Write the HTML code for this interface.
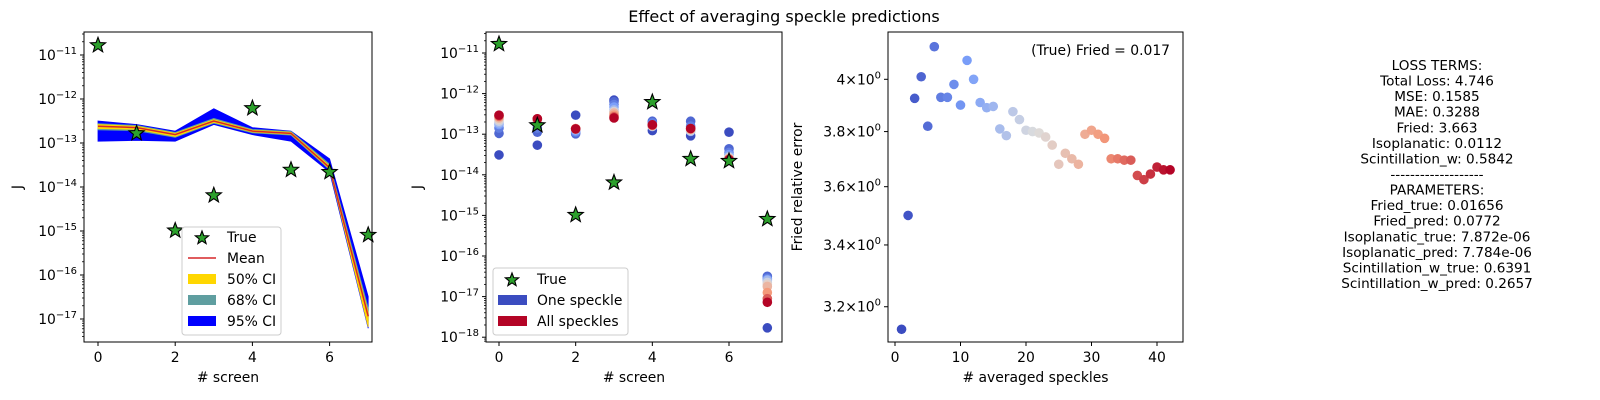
<!DOCTYPE html>
<html><head><meta charset="utf-8">
<style>
html,body{margin:0;padding:0;background:#fff;}
svg{display:block;font-family:"DejaVu Sans","Liberation Sans",sans-serif;}
</style></head>
<body>
<svg id="fig" width="1600" height="400" viewBox="0 0 1600 400" xmlns="http://www.w3.org/2000/svg">
<text x="784" y="22" font-size="16" text-anchor="middle" fill="#000">Effect of averaging speckle predictions</text>
<g id="p1"></g>
<g id="p2"></g>
<g id="p3"></g>
<g id="txt"></g>
</svg>
<script>
// ---- data (log10 values for J) ----
const screens = [0,1,2,3,4,5,6,7];
const trueJ = [-10.78,-12.78,-14.99,-14.19,-12.21,-13.61,-13.66,-15.09];
const meanJ = [-12.62,-12.65,-12.81,-12.50,-12.73,-12.78,-13.56,-16.94];
const ci95Hi = [-12.50,-12.58,-12.73,-12.22,-12.65,-12.73,-13.36,-16.49];
const ci95Lo = [-12.96,-12.94,-12.96,-12.58,-12.81,-12.96,-13.66,-17.21];
const ci68Hi = [-12.56,-12.60,-12.76,-12.44,-12.69,-12.74,-13.48,-16.75];
const ci68Lo = [-12.70,-12.72,-12.87,-12.55,-12.77,-12.82,-13.61,-17.05];
const ci50Hi = [-12.58,-12.62,-12.78,-12.47,-12.71,-12.76,-13.52,-16.85];
const ci50Lo = [-12.67,-12.69,-12.85,-12.53,-12.75,-12.80,-13.59,-17.18];
// speckle predictions per screen at colour positions speckleT
const speckleT = [0, 0.08, 0.15, 0.25, 0.35, 0.45, 0.55, 0.65, 0.75, 0.85, 1];
const speckleJ = [
  [-13.51,-12.98,-12.85,-12.76,-12.72,-12.68,-12.64,-12.60,-12.57,-12.55,-12.53],
  [-13.27,-12.95,-12.85,-12.76,-12.70,-12.67,-12.65,-12.64,-12.63,-12.62,-12.62],
  [-12.53,-12.99,-12.95,-12.92,-12.89,-12.88,-12.87,-12.86,-12.86,-12.87,-12.87],
  [-12.16,-12.20,-12.27,-12.33,-12.40,-12.44,-12.46,-12.48,-12.53,-12.57,-12.60],
  [-12.91,-12.68,-12.72,-12.77,-12.81,-12.80,-12.79,-12.79,-12.78,-12.77,-12.77],
  [-13.04,-12.68,-12.80,-12.88,-12.93,-12.91,-12.89,-12.88,-12.87,-12.86,-12.86],
  [-12.95,-13.36,-13.45,-13.50,-13.55,-13.57,-13.59,-13.60,-13.61,-13.62,-13.63],
  [-17.77,-16.50,-16.55,-16.58,-16.60,-16.65,-16.70,-16.75,-16.90,-17.05,-17.14]
];
const avgN = [1,2,3,4,5,6,7,8,9,10,11,12,13,14,15,16,17,18,19,20,21,22,23,24,25,26,27,28,29,30,31,32,33,34,35,36,37,38,39,40,41,42];
const friedErr = [3.13,3.50,3.926,4.01,3.82,4.13,3.93,3.93,3.98,3.90,4.075,4.0,3.91,3.89,3.895,3.81,3.785,3.875,3.845,3.805,3.80,3.795,3.78,3.75,3.68,3.72,3.70,3.68,3.79,3.805,3.79,3.775,3.70,3.70,3.695,3.695,3.64,3.625,3.645,3.67,3.66,3.66];
const xTicks12 = [0,2,4,6];
const yTicks1 = [-11,-12,-13,-14,-15,-16,-17];
const yTicks2 = [-11,-12,-13,-14,-15,-16,-17,-18];
const xTicks3 = [0,10,20,30,40];
const yTicks3 = [3.2,3.4,3.6,3.8,4];
const yTickLabels3 = ["3.2","3.4","3.6","3.8","4"];
const textLines = ["LOSS TERMS:","Total Loss: 4.746","MSE: 0.1585","MAE: 0.3288","Fried: 3.663","Isoplanatic: 0.0112","Scintillation_w: 0.5842","-------------------","PARAMETERS:","Fried_true: 0.01656","Fried_pred: 0.0772","Isoplanatic_true: 7.872e-06","Isoplanatic_pred: 7.784e-06","Scintillation_w_true: 0.6391","Scintillation_w_pred: 0.2657"];

const FS = 13.9;
const NS = "http://www.w3.org/2000/svg";
function mk(tag, attrs, parent){ const e=document.createElementNS(NS,tag); for(const k in attrs) e.setAttribute(k,attrs[k]); if(parent) parent.appendChild(e); return e; }
function lin(d0,d1,r0,r1){ return v => r0+(v-d0)*(r1-r0)/(d1-d0); }
const CW=[[0,[59,76,192]],[0.25,[123,159,249]],[0.5,[221,221,221]],[0.75,[244,154,123]],[1,[180,4,38]]];
function coolwarm(t){ for(let i=0;i<CW.length-1;i++){ const a=CW[i],b=CW[i+1]; if(t<=b[0]){ const f=(t-a[0])/(b[0]-a[0]); const c=a[1].map((v,j)=>Math.round(v+(b[1][j]-v)*f)); return `rgb(${c})`; } } return "rgb(180,4,38)"; }
function starPts(cx,cy,R){ const r=R*0.42; let p=[]; for(let i=0;i<10;i++){ const a=-Math.PI/2+i*Math.PI/5; const rr=i%2?r:R; p.push((cx+rr*Math.cos(a)).toFixed(2)+","+(cy+rr*Math.sin(a)).toFixed(2)); } return p.join(" "); }
function supLabel(g,x,y,base,exp,anchor){ const t=mk("text",{x:x,y:y,"font-size":FS,"text-anchor":anchor||"end",fill:"#000"},g); t.appendChild(document.createTextNode(base)); const s=mk("tspan",{dy:-6,"font-size":10},t); s.textContent=exp; return t; }

function frame(g,L,T,R,B){ mk("rect",{x:L,y:T,width:R-L,height:B-T,fill:"none",stroke:"#000","stroke-width":1},g); }
function logYAxis(g,L,ys,ticks,lo,hi){
  ticks.forEach(e=>{ const y=ys(e); mk("line",{x1:L-4,x2:L,y1:y,y2:y,stroke:"#000"},g);
    const t=supLabel(g,L-7,y+5,"10","\u2212"+(-e));   });
  for(let d=Math.floor(lo);d<=Math.ceil(hi);d++){ for(let m=2;m<=9;m++){ const v=d+Math.log10(m); if(v>lo&&v<hi){ const y=ys(v); mk("line",{x1:L-2,x2:L,y1:y,y2:y,stroke:"#000","stroke-width":0.8},g);} } }
}
function xAxis(g,B,xs,ticks,label,cx){
  ticks.forEach(v=>{ const x=xs(v); mk("line",{x1:x,x2:x,y1:B,y2:B+4,stroke:"#000"},g);
    const t=mk("text",{x:x,y:B+20,"font-size":FS,"text-anchor":"middle"},g); t.textContent=v;
      });
  const t=mk("text",{x:cx,y:B+40,"font-size":FS,"text-anchor":"middle"},g); t.textContent=label;
   
}
function yTitle(g,x,y,label){ const t=mk("text",{x:x,y:y,"font-size":FS,"text-anchor":"middle",transform:`rotate(-90 ${x} ${y})`},g); t.textContent=label;   }
function band(g,xs,ys,hi,lo,color,name){ let d="M"+screens.map((s,i)=>xs(s)+","+ys(hi[i])).join("L")+"L"+screens.slice().reverse().map((s,k)=>{const i=screens.length-1-k; return xs(s)+","+ys(lo[i]);}).join("L")+"Z"; const p=mk("path",{d:d,fill:color,stroke:color,"stroke-width":0.8},g);   }
function star(g,x,y,R){ const p=mk("polygon",{points:starPts(x,y,R),fill:"#2ca02c",stroke:"#000","stroke-width":1.1},g);   return p; }

// ---------- Panel 1 ----------
(function(){
  const g=document.getElementById("p1");
  const L=84,R=372,T=32,B=342;
  const xs=lin(0,2,98,175.2); const ys=lin(-11,-17,55,319);
  band(g,xs,ys,ci95Hi,ci95Lo,"#0000ff","ci95-band");
  band(g,xs,ys,ci68Hi,ci68Lo,"#5f9ea0","ci68-band");
  band(g,xs,ys,ci50Hi,ci50Lo,"#ffd700","ci50-band");
  const ml=mk("polyline",{points:screens.map((s,i)=>xs(s)+","+ys(meanJ[i])).join(" "),fill:"none",stroke:"#d62728","stroke-width":1.5},g);
   
  screens.forEach((s,i)=>star(g,xs(s),ys(trueJ[i]),8));
  frame(g,L,T,R,B);
  logYAxis(g,L,ys,yTicks1,-17.52,-10.47);
  xAxis(g,B,xs,xTicks12,"# screen",(L+R)/2);
  yTitle(g,22,187,"J");
  const lg=mk("g",{},g);  
  mk("rect",{x:182,y:227,width:99,height:108,rx:3,fill:"#fff","fill-opacity":0.8,stroke:"#ccc"},lg);
  const rows=[237,258,279,300,321]; const labels=["True","Mean","50% CI","68% CI","95% CI"];
  star(lg,202,rows[0]+1,7);
  mk("line",{x1:188,x2:216,y1:rows[1],y2:rows[1],stroke:"#d62728","stroke-width":1.5},lg);
  ["#ffd700","#5f9ea0","#0000ff"].forEach((c,k)=>mk("rect",{x:188,y:rows[k+2]-5,width:28,height:10,fill:c},lg));
  labels.forEach((l,k)=>{ const t=mk("text",{x:227,y:rows[k]+5,"font-size":FS},lg); t.textContent=l;   });
})();

// ---------- Panel 2 ----------
(function(){
  const g=document.getElementById("p2");
  const L=486,R=782,T=32,B=342;
  const xs=lin(0,6,499,729); const ys=lin(-11,-18,53,337.2);
  speckleT.forEach((t,k)=>{ screens.forEach((s,i)=>{ const c=mk("circle",{cx:xs(s),cy:ys(speckleJ[i][k]),r:4.8,fill:coolwarm(t)},g);   }); });
  screens.forEach((s,i)=>star(g,xs(s),ys(trueJ[i]),8));
  frame(g,L,T,R,B);
  logYAxis(g,L,ys,yTicks2,-18.12,-10.48);
  xAxis(g,B,xs,xTicks12,"# screen",(L+R)/2);
  yTitle(g,422,187,"J");
  const lg=mk("g",{},g);  
  mk("rect",{x:493,y:268,width:135,height:67,rx:3,fill:"#fff","fill-opacity":0.8,stroke:"#ccc"},lg);
  const rows=[279,300,321]; const labels=["True","One speckle","All speckles"];
  star(lg,512,rows[0]+1,7);
  mk("rect",{x:498,y:rows[1]-5,width:29,height:10,fill:coolwarm(0)},lg);
  mk("rect",{x:498,y:rows[2]-5,width:29,height:10,fill:coolwarm(1)},lg);
  labels.forEach((l,k)=>{ const t=mk("text",{x:537,y:rows[k]+5,"font-size":FS},lg); t.textContent=l;   });
})();

// ---------- Panel 3 ----------
(function(){
  const g=document.getElementById("p3");
  const L=888,R=1183,T=32,B=342;
  const xs=lin(0,40,895,1157); const ys=v=>79.3-2347*(Math.log10(v)-Math.log10(4));
  avgN.forEach((n,i)=>{ const c=mk("circle",{cx:xs(n),cy:ys(friedErr[i]),r:4.8,fill:coolwarm((n-1)/(avgN.length-1))},g);   });
  frame(g,L,T,R,B);
  yTicks3.forEach((v,k)=>{ const y=ys(v); mk("line",{x1:L-4,x2:L,y1:y,y2:y,stroke:"#000"},g);
    const t=supLabel(g,L-7,y+5,yTickLabels3[k]+"\u00d710","0");   });
  xAxis(g,B,xs,xTicks3,"# averaged speckles",(L+R)/2);
  yTitle(g,802,187,"Fried relative error");
  const a=mk("text",{x:1170,y:55,"font-size":FS,"text-anchor":"end"},g); a.textContent="(True) Fried = 0.017";
   
})();

// ---------- Text ----------
(function(){
  const g=document.getElementById("txt");
  textLines.forEach((l,i)=>{ const t=mk("text",{x:1437,y:70+i*15.57,"font-size":13.6,"text-anchor":"middle"},g); t.textContent=l;   });
})();
</script>
</body></html>
